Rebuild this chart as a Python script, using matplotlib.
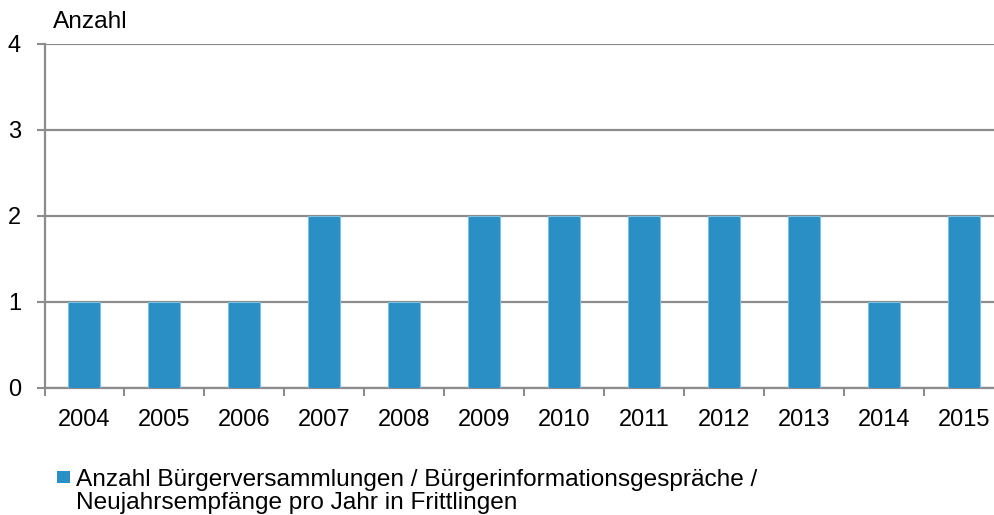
import matplotlib
matplotlib.use("Agg")
import matplotlib.pyplot as plt
from matplotlib.patches import Rectangle
import numpy as np

years = ["2004", "2005", "2006", "2007", "2008", "2009", "2010", "2011", "2012", "2013", "2014", "2015"]
counts = [1, 1, 1, 2, 1, 2, 2, 2, 2, 2, 1, 2]
series_label = "Anzahl Bürgerversammlungen / Bürgerinformationsgespräche /\nNeujahrsempfänge pro Jahr in Frittlingen"
y_ticks = [0, 1, 2, 3, 4]

plt.rcParams['font.family'] = ['Liberation Sans', 'DejaVu Sans']
W, H = 995, 515
fig = plt.figure(figsize=(W / 100, H / 100), dpi=100)
left, right, top, bottom = 44.5, 1004, 44, 388
ax = fig.add_axes([left / W, 1 - bottom / H, (right - left) / W, (bottom - top) / H])

bar_color = "#2A8FC4"
x = np.arange(len(years))
bars = ax.bar(x, counts, width=0.4, color=bar_color, edgecolor="#7FC0E0", linewidth=0.8, zorder=3,
              label=series_label)

ax.set_xlim(-0.5, len(years) - 0.5)
ax.set_ylim(0, 4)
ax.set_yticks(y_ticks)
ax.set_yticklabels([str(v) for v in y_ticks], fontsize=17)
ax.yaxis.grid(True, color="#8C8C8C", linewidth=1.6, zorder=0)
ax.set_axisbelow(True)

ax.set_xticks(x)
ax.set_xticklabels(years, fontsize=17)
ax.set_xticks(np.arange(-0.5, len(years), 1), minor=True)
ax.tick_params(axis='x', which='major', length=0, pad=15)
ax.tick_params(axis='x', which='minor', length=6, width=1.5, color="#8C8C8C", direction='out')
ax.tick_params(axis='y', length=6, width=1.5, color="#8C8C8C", direction='out', pad=11)

for s in ["top", "right"]:
    ax.spines[s].set_visible(False)
for s in ["left", "bottom"]:
    ax.spines[s].set_color("#8C8C8C")
    ax.spines[s].set_linewidth(1.6)

fig.text(53 / W, 1 - 22 / H, "Anzahl", fontsize=17.6, va="center", ha="left")

# legend (manual, to match square aligned with first line)
fig.patches.append(Rectangle((57 / W, 1 - 483 / H), 13 / W, 12 / H, transform=fig.transFigure,
                             facecolor=bar_color, edgecolor="none"))
fig.text(76 / W, 1 - 509 / H, series_label, fontsize=17.6, ha="left", va="baseline",
         linespacing=1.05)

fig.savefig("out.png", dpi=100)
